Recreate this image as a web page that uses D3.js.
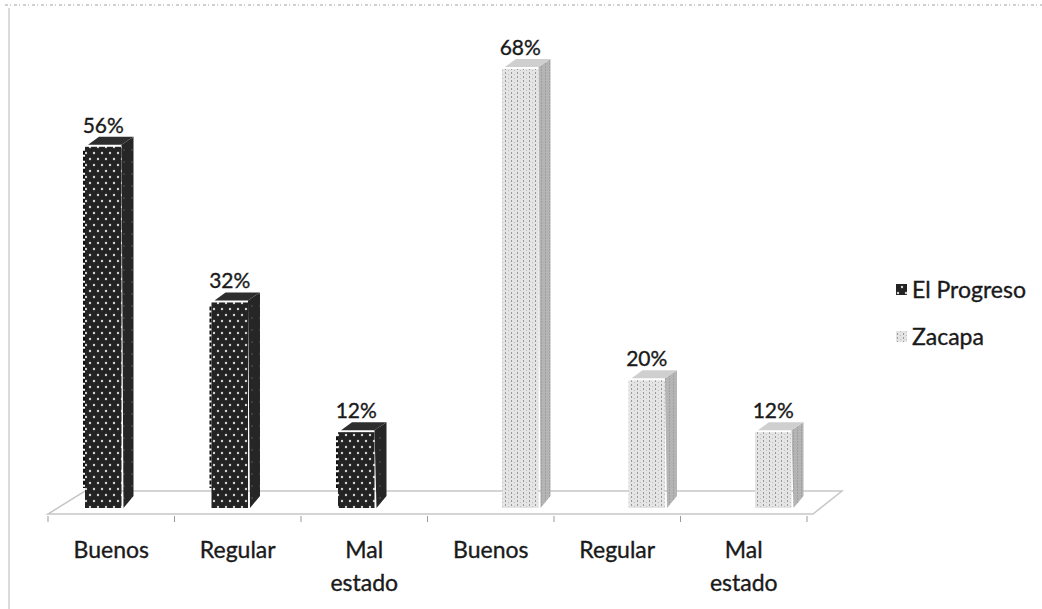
<!DOCTYPE html>
<html>
<head>
<meta charset="utf-8">
<script src="https://cdn.jsdelivr.net/npm/d3@7"></script>
<style>
  body { margin: 0; background: #fff; }
  svg { display: block; }
  text { font-family: Lato, "Open Sans", sans-serif; fill: #1a1a1a; stroke: #1a1a1a; stroke-width: 0.35; }
</style>
</head>
<body>
<svg width="1042" height="609"></svg>
<script>
// data
var categories = ["Buenos", "Regular", "Mal estado", "Buenos", "Regular", "Mal estado"];
var seriesNames = ["El Progreso", "Zacapa"];
var elProgreso = [56, 32, 12, null, null, null];
var zacapa = [null, null, null, 68, 20, 12];

var svg = d3.select("svg");
var defs = svg.append("defs");

// patterns
var pDark = defs.append("pattern").attr("id", "pDark")
  .attr("patternUnits", "userSpaceOnUse").attr("width", 8).attr("height", 12);
pDark.append("rect").attr("width", 8).attr("height", 12).attr("fill", "#232323");
pDark.append("circle").attr("cx", 2).attr("cy", 3).attr("r", 1.2).attr("fill", "#d4d4d4");
pDark.append("circle").attr("cx", 6).attr("cy", 9).attr("r", 1.2).attr("fill", "#d4d4d4");

var pDarkSide = defs.append("pattern").attr("id", "pDarkSide")
  .attr("patternUnits", "userSpaceOnUse").attr("width", 8).attr("height", 12);
pDarkSide.append("rect").attr("width", 8).attr("height", 12).attr("fill", "#262626");
pDarkSide.append("circle").attr("cx", 4).attr("cy", 6).attr("r", 0.9).attr("fill", "#4a4a4a");

var pLight = defs.append("pattern").attr("id", "pLight")
  .attr("patternUnits", "userSpaceOnUse").attr("width", 6).attr("height", 4);
pLight.append("rect").attr("width", 6).attr("height", 4).attr("fill", "#e4e4e4");
pLight.append("rect").attr("x", 1).attr("y", 0).attr("width", 1).attr("height", 2).attr("fill", "#9a9a9a");
pLight.append("rect").attr("x", 4).attr("y", 2).attr("width", 1).attr("height", 1).attr("fill", "#bdbdbd");

var pLightSide = defs.append("pattern").attr("id", "pLightSide")
  .attr("patternUnits", "userSpaceOnUse").attr("width", 4).attr("height", 3);
pLightSide.append("rect").attr("width", 4).attr("height", 3).attr("fill", "#b4b4b4");
pLightSide.append("rect").attr("x", 1).attr("width", 1).attr("height", 2).attr("fill", "#a0a0a0");

// frame remnants of the scan
svg.append("line").attr("x1", 9).attr("x2", 9).attr("y1", 8).attr("y2", 609)
  .attr("stroke", "#cfcfcf").attr("stroke-width", 1.5);
svg.append("line").attr("x1", 5).attr("x2", 1042).attr("y1", 5).attr("y2", 5)
  .attr("stroke", "#d0d0d0").attr("stroke-width", 2).attr("stroke-dasharray", "3,2,1,3");

// scales
var x0 = d3.scaleBand().domain(d3.range(categories.length)).range([48, 807]);
var x1 = d3.scaleBand().domain(seriesNames).range([37, 111]).paddingInner(1 / 37);
var y = d3.scaleLinear().domain([0, 70]).range([508, 54]);

var depthX = 12, depthY = -8;

// floor
var floorFront = 514, floorBack = 491;
svg.append("polygon")
  .attr("points", [[48, floorFront], [813, floorFront], [842, floorBack], [85, floorBack]].join(" "))
  .attr("fill", "#fff").attr("stroke", "#c6c6c6").attr("stroke-width", 1.5);

// ticks
svg.selectAll(".tick").data(d3.range(categories.length + 1)).enter().append("line")
  .attr("x1", function (d) { return d < categories.length ? x0(d) : x0(d - 1) + x0.bandwidth(); })
  .attr("x2", function (d) { return d < categories.length ? x0(d) : x0(d - 1) + x0.bandwidth(); })
  .attr("y1", floorFront + 2).attr("y2", floorFront + 8)
  .attr("stroke", "#999").attr("stroke-width", 1);

// bars
var bars = [];
categories.forEach(function (c, i) {
  if (elProgreso[i] != null) bars.push({ i: i, s: "El Progreso", v: elProgreso[i] });
  if (zacapa[i] != null) bars.push({ i: i, s: "Zacapa", v: zacapa[i] });
});

var g = svg.selectAll("g.bar").data(bars).enter().append("g").attr("class", "bar");

g.each(function (d) {
  var sel = d3.select(this);
  var x = x0(d.i) + x1(d.s), w = x1.bandwidth();
  var yt = y(d.v), yb = y(0);
  var dark = d.s === "El Progreso";
  // side
  sel.append("polygon")
    .attr("points", [[x + w, yt], [x + w + depthX, yt + depthY], [x + w + depthX, yb + depthY - 4], [x + w + 2, yb]].join(" "))
    .attr("fill", dark ? "url(#pDarkSide)" : "url(#pLightSide)");
  // top
  sel.append("polygon")
    .attr("points", [[x + 3, yt], [x + w, yt], [x + w + depthX, yt + depthY], [x + depthX + 2, yt + depthY]].join(" "))
    .attr("fill", dark ? "#2e2e2e" : "#cfcfcf");
  // front
  sel.append("rect").attr("x", x).attr("y", yt + 2).attr("width", w).attr("height", yb - yt - 2)
    .attr("fill", dark ? "url(#pDark)" : "url(#pLight)");
  if (dark) {
    sel.append("line").attr("x1", x - 1).attr("x2", x - 1).attr("y1", yt + 6).attr("y2", yb - 20)
      .attr("stroke", "#111").attr("stroke-width", 2).attr("stroke-dasharray", "4,2");
  }
  sel.append("text")
    .attr("x", x + w / 2).attr("y", yt - 12)
    .attr("text-anchor", "middle").attr("font-size", 21)
    .text(d.v + "%");
});

// category labels
svg.selectAll("text.cat").data(categories).enter().append("text")
  .attr("class", "cat")
  .attr("text-anchor", "middle").attr("font-size", 23)
  .attr("x", function (d, i) { return x0(i) + x0.bandwidth() / 2; })
  .attr("y", 558)
  .each(function (d) {
    var words = d.split(" ");
    var t = d3.select(this);
    words.forEach(function (wd, k) {
      t.append("tspan").attr("x", t.attr("x")).attr("dy", k === 0 ? 0 : 33).text(wd);
    });
  });

// legend
var legend = svg.selectAll("g.legend").data(seriesNames).enter().append("g")
  .attr("class", "legend")
  .attr("transform", function (d, i) { return "translate(896," + (290 + i * 47) + ")"; });
legend.append("rect").attr("x", 0).attr("y", -6).attr("width", 11).attr("height", 11)
  .attr("fill", function (d) { return d === "El Progreso" ? "url(#pDark)" : "url(#pLight)"; });
legend.append("text").attr("x", 16).attr("y", 8).attr("font-size", 23)
  .text(function (d) { return d; });
</script>
</body>
</html>
